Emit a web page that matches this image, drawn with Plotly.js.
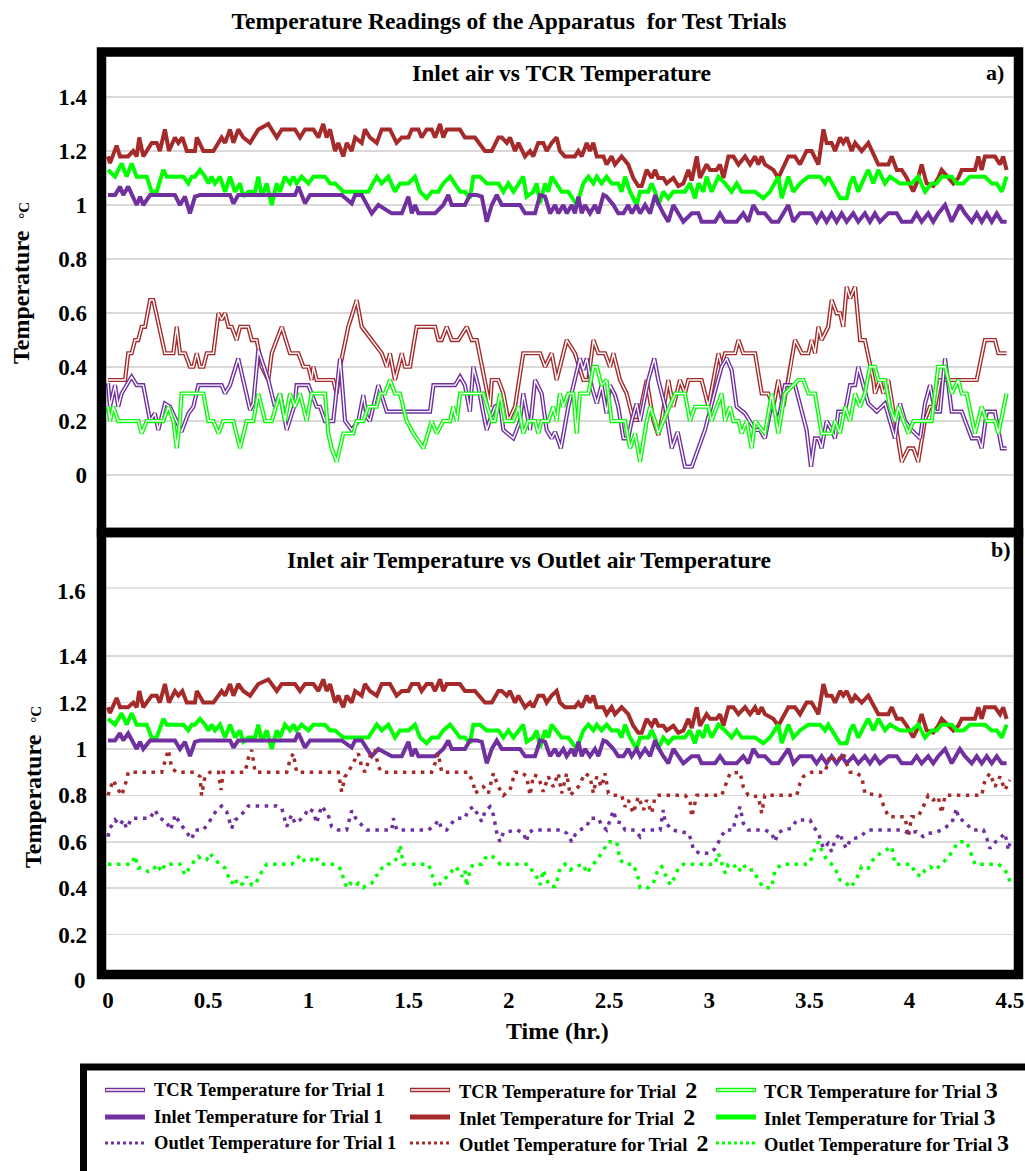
<!DOCTYPE html>
<html>
<head>
<meta charset="utf-8">
<script src="https://cdn.plot.ly/plotly-3.0.1.min.js"></script>
<style>html,body{margin:0;padding:0;background:#fff}#chart{width:1025px;height:1171px}</style>
</head>
<body>
<div id="chart"></div>
<script>
// ---------------- DATA (time in hr, temperature in °C) ----------------
const inlet2 = [[0,1.18],[0.01,1.155],[0.043,1.22],[0.06,1.18],[0.10,1.18],[0.126,1.20],[0.143,1.18],[0.156,1.25],[0.176,1.18],[0.218,1.23],[0.243,1.23],[0.259,1.20],[0.284,1.28],[0.304,1.20],[0.334,1.25],[0.351,1.23],[0.371,1.25],[0.393,1.20],[0.434,1.20],[0.443,1.25],[0.476,1.20],[0.526,1.20],[0.567,1.25],[0.584,1.23],[0.609,1.28],[0.626,1.23],[0.65,1.28],[0.675,1.25],[0.709,1.23],[0.75,1.28],[0.80,1.30],[0.842,1.25],[0.867,1.28],[0.933,1.28],[0.958,1.25],[0.983,1.28],[1.025,1.28],[1.05,1.25],[1.074,1.30],[1.091,1.25],[1.108,1.28],[1.133,1.20],[1.149,1.23],[1.174,1.18],[1.191,1.23],[1.216,1.20],[1.233,1.25],[1.266,1.23],[1.282,1.28],[1.307,1.25],[1.341,1.23],[1.366,1.28],[1.407,1.28],[1.44,1.23],[1.466,1.25],[1.499,1.25],[1.516,1.28],[1.549,1.28],[1.565,1.25],[1.59,1.28],[1.615,1.28],[1.632,1.25],[1.657,1.30],[1.673,1.25],[1.69,1.28],[1.756,1.28],[1.781,1.25],[1.831,1.25],[1.881,1.20],[1.915,1.20],[1.948,1.25],[1.965,1.25],[1.99,1.23],[2.006,1.25],[2.031,1.20],[2.048,1.23],[2.081,1.18],[2.106,1.20],[2.122,1.18],[2.147,1.23],[2.172,1.23],[2.189,1.20],[2.214,1.23],[2.239,1.25],[2.255,1.20],[2.280,1.18],[2.330,1.18],[2.347,1.20],[2.364,1.18],[2.389,1.23],[2.405,1.20],[2.422,1.23],[2.439,1.18],[2.472,1.18],[2.488,1.15],[2.513,1.18],[2.530,1.15],[2.563,1.18],[2.596,1.15],[2.621,1.10],[2.646,1.07],[2.663,1.07],[2.688,1.13],[2.713,1.10],[2.730,1.13],[2.746,1.10],[2.771,1.10],[2.788,1.08],[2.821,1.10],[2.846,1.07],[2.871,1.08],[2.896,1.13],[2.913,1.09],[2.938,1.18],[2.954,1.10],[2.987,1.15],[3.004,1.13],[3.037,1.13],[3.054,1.15],[3.071,1.10],[3.096,1.18],[3.121,1.18],[3.146,1.15],[3.179,1.18],[3.204,1.15],[3.229,1.18],[3.245,1.15],[3.262,1.18],[3.278,1.15],[3.320,1.13],[3.345,1.10],[3.395,1.18],[3.428,1.18],[3.453,1.15],[3.486,1.20],[3.511,1.20],[3.545,1.15],[3.570,1.28],[3.586,1.23],[3.611,1.23],[3.628,1.20],[3.653,1.25],[3.669,1.23],[3.686,1.25],[3.711,1.20],[3.728,1.23],[3.761,1.20],[3.794,1.23],[3.844,1.15],[3.894,1.15],[3.911,1.18],[3.936,1.13],[3.961,1.13],[3.986,1.10],[4.018,1.05],[4.035,1.08],[4.060,1.15],[4.085,1.08],[4.118,1.07],[4.143,1.10],[4.160,1.13],[4.193,1.10],[4.218,1.08],[4.243,1.10],[4.260,1.13],[4.326,1.13],[4.343,1.18],[4.360,1.13],[4.376,1.18],[4.426,1.18],[4.451,1.15],[4.467,1.18],[4.484,1.13]];

const inlet3 = [[0,1.13],[0.035,1.105],[0.068,1.154],[0.093,1.105],[0.118,1.154],[0.143,1.105],[0.193,1.105],[0.218,1.049],[0.243,1.049],[0.276,1.13],[0.293,1.105],[0.376,1.105],[0.401,1.08],[0.418,1.105],[0.434,1.105],[0.459,1.13],[0.484,1.105],[0.501,1.08],[0.517,1.105],[0.534,1.08],[0.559,1.105],[0.584,1.049],[0.609,1.105],[0.634,1.049],[0.659,1.08],[0.675,1.031],[0.700,1.049],[0.734,1.049],[0.750,1.105],[0.767,1.031],[0.792,1.08],[0.817,1.0],[0.842,1.08],[0.858,1.049],[0.883,1.105],[0.908,1.08],[0.925,1.105],[0.941,1.08],[0.966,1.105],[1.0,1.08],[1.025,1.105],[1.083,1.105],[1.108,1.08],[1.133,1.08],[1.174,1.049],[1.299,1.049],[1.341,1.105],[1.366,1.08],[1.399,1.105],[1.432,1.049],[1.457,1.08],[1.499,1.08],[1.532,1.105],[1.557,1.049],[1.590,1.025],[1.615,1.049],[1.648,1.049],[1.673,1.08],[1.707,1.105],[1.732,1.08],[1.757,1.049],[1.781,1.049],[1.806,1.025],[1.823,1.105],[1.856,1.105],[1.890,1.08],[1.948,1.08],[1.973,1.049],[1.998,1.08],[2.023,1.049],[2.048,1.08],[2.072,1.105],[2.089,1.031],[2.122,1.049],[2.139,1.08],[2.156,1.006],[2.181,1.08],[2.197,1.049],[2.214,1.105],[2.239,1.08],[2.264,1.049],[2.297,1.049],[2.339,1.0],[2.372,1.08],[2.397,1.105],[2.422,1.08],[2.439,1.105],[2.463,1.08],[2.488,1.105],[2.513,1.08],[2.546,1.08],[2.563,1.049],[2.580,1.105],[2.605,1.049],[2.638,1.0],[2.655,1.049],[2.696,1.049],[2.713,1.08],[2.730,1.049],[2.746,1.0],[2.771,1.049],[2.796,1.025],[2.821,1.049],[2.879,1.049],[2.904,1.08],[2.929,1.025],[2.946,1.08],[2.971,1.049],[2.987,1.105],[3.012,1.049],[3.046,1.105],[3.079,1.08],[3.112,1.049],[3.137,1.08],[3.162,1.049],[3.195,1.049],[3.229,1.049],[3.270,1.025],[3.303,1.049],[3.345,1.105],[3.362,1.025],[3.395,1.105],[3.420,1.049],[3.453,1.08],[3.495,1.105],[3.553,1.105],[3.578,1.08],[3.594,1.105],[3.636,1.049],[3.653,1.025],[3.686,1.025],[3.703,1.08],[3.719,1.105],[3.744,1.049],[3.777,1.105],[3.794,1.13],[3.819,1.08],[3.844,1.13],[3.877,1.08],[3.902,1.105],[3.952,1.08],[4.010,1.08],[4.043,1.105],[4.077,1.049],[4.110,1.08],[4.135,1.08],[4.160,1.105],[4.210,1.105],[4.235,1.08],[4.268,1.08],[4.301,1.105],[4.376,1.105],[4.410,1.08],[4.435,1.08],[4.460,1.049],[4.484,1.105]];

const inlet1 = [[0,1.037],[0.035,1.037],[0.06,1.068],[0.076,1.037],[0.101,1.068],[0.143,1.0],[0.16,1.031],[0.176,1.0],[0.21,1.037],[0.334,1.037],[0.359,1.0],[0.384,1.031],[0.409,0.969],[0.434,1.031],[0.459,1.037],[0.609,1.037],[0.626,1.006],[0.65,1.037],[0.933,1.037],[0.95,1.068],[0.983,1.006],[1.008,1.037],[1.166,1.037],[1.216,1.006],[1.233,1.037],[1.266,1.037],[1.316,0.969],[1.349,1.0],[1.416,0.969],[1.466,0.969],[1.499,1.031],[1.516,0.969],[1.532,1.0],[1.549,0.969],[1.590,0.969],[1.632,0.969],[1.673,1.0],[1.698,1.037],[1.715,1.0],[1.781,1.0],[1.806,1.037],[1.840,1.037],[1.865,1.031],[1.890,0.938],[1.915,1.0],[1.940,1.037],[1.965,1.0],[2.031,1.0],[2.056,1.0],[2.081,0.969],[2.097,0.969],[2.131,0.969],[2.156,1.037],[2.181,1.031],[2.206,0.969],[2.231,1.0],[2.247,0.969],[2.272,1.0],[2.289,0.969],[2.314,1.0],[2.330,0.969],[2.347,1.031],[2.364,0.969],[2.380,1.0],[2.405,0.969],[2.430,1.0],[2.447,0.969],[2.472,1.037],[2.488,1.031],[2.522,1.0],[2.546,0.969],[2.572,0.969],[2.596,1.0],[2.613,0.969],[2.638,1.0],[2.655,0.969],[2.680,1.0],[2.705,0.969],[2.730,1.037],[2.746,1.006],[2.771,0.969],[2.796,0.938],[2.821,1.0],[2.846,0.969],[2.871,0.938],[2.913,0.969],[2.946,0.969],[2.962,0.938],[3.029,0.938],[3.054,0.969],[3.079,0.938],[3.137,0.938],[3.170,0.969],[3.195,0.938],[3.220,1.0],[3.245,0.969],[3.278,0.969],[3.312,0.938],[3.345,0.938],[3.395,1.0],[3.420,0.938],[3.453,0.969],[3.511,0.969],[3.536,0.938],[3.561,0.969],[3.586,0.938],[3.611,0.969],[3.636,0.938],[3.661,0.969],[3.686,0.938],[3.719,0.969],[3.744,0.938],[3.777,0.969],[3.802,0.938],[3.827,0.969],[3.852,0.938],[3.894,0.969],[3.936,0.969],[3.961,0.938],[4.010,0.938],[4.035,0.969],[4.060,0.938],[4.093,0.969],[4.118,0.938],[4.143,0.969],[4.177,1.0],[4.210,0.938],[4.251,1.0],[4.276,0.969],[4.310,0.938],[4.335,0.969],[4.360,0.938],[4.385,0.969],[4.410,0.938],[4.435,0.969],[4.460,0.938],[4.484,0.938]];

const tcr2 = [[0,0.352],[0.085,0.352],[0.101,0.451],[0.118,0.451],[0.135,0.5],[0.151,0.5],[0.168,0.549],[0.185,0.549],[0.21,0.648],[0.226,0.648],[0.284,0.451],[0.326,0.451],[0.343,0.549],[0.359,0.451],[0.384,0.451],[0.409,0.401],[0.426,0.401],[0.443,0.451],[0.459,0.401],[0.476,0.401],[0.493,0.451],[0.526,0.451],[0.551,0.599],[0.567,0.575],[0.584,0.599],[0.601,0.549],[0.617,0.549],[0.642,0.5],[0.659,0.549],[0.700,0.549],[0.717,0.5],[0.742,0.5],[0.767,0.401],[0.80,0.352],[0.817,0.451],[0.867,0.549],[0.908,0.451],[0.95,0.451],[0.975,0.401],[1.0,0.401],[1.016,0.352],[1.025,0.401],[1.041,0.352],[1.124,0.352],[1.141,0.302],[1.158,0.401],[1.199,0.549],[1.241,0.648],[1.266,0.549],[1.316,0.5],[1.366,0.451],[1.391,0.401],[1.407,0.451],[1.432,0.352],[1.466,0.451],[1.482,0.401],[1.507,0.401],[1.540,0.549],[1.632,0.549],[1.648,0.5],[1.665,0.5],[1.690,0.549],[1.715,0.5],[1.748,0.5],[1.790,0.549],[1.815,0.5],[1.840,0.5],[1.906,0.253],[1.915,0.352],[1.948,0.352],[1.973,0.302],[1.998,0.2],[2.031,0.253],[2.072,0.451],[2.131,0.451],[2.156,0.451],[2.181,0.401],[2.214,0.451],[2.239,0.352],[2.289,0.5],[2.330,0.451],[2.372,0.352],[2.397,0.352],[2.422,0.5],[2.447,0.451],[2.480,0.451],[2.505,0.401],[2.522,0.451],[2.555,0.352],[2.588,0.302],[2.621,0.204],[2.646,0.204],[2.688,0.352],[2.721,0.204],[2.746,0.148],[2.763,0.204],[2.796,0.352],[2.821,0.253],[2.854,0.352],[2.879,0.302],[2.896,0.352],[2.962,0.352],[2.996,0.253],[3.021,0.352],[3.046,0.451],[3.062,0.401],[3.079,0.451],[3.129,0.451],[3.146,0.5],[3.170,0.451],[3.229,0.451],[3.262,0.302],[3.295,0.302],[3.320,0.253],[3.345,0.352],[3.370,0.253],[3.395,0.352],[3.428,0.5],[3.462,0.451],[3.495,0.451],[3.511,0.5],[3.528,0.451],[3.545,0.549],[3.561,0.5],[3.594,0.549],[3.611,0.648],[3.636,0.599],[3.653,0.599],[3.669,0.549],[3.686,0.697],[3.703,0.654],[3.728,0.697],[3.753,0.5],[3.777,0.5],[3.819,0.352],[3.827,0.302],[3.852,0.352],[3.869,0.302],[3.894,0.352],[3.927,0.204],[3.961,0.049],[3.994,0.099],[4.019,0.099],[4.043,0.049],[4.077,0.204],[4.102,0.253],[4.127,0.253],[4.152,0.352],[4.335,0.352],[4.376,0.5],[4.426,0.5],[4.443,0.451],[4.484,0.451]];

const tcr1 = [[0,0.34],[0.01,0.253],[0.035,0.333],[0.051,0.253],[0.068,0.302],[0.093,0.333],[0.118,0.364],[0.143,0.333],[0.176,0.333],[0.21,0.2],[0.234,0.228],[0.251,0.167],[0.284,0.265],[0.309,0.253],[0.343,0.2],[0.367,0.160],[0.401,0.228],[0.426,0.253],[0.451,0.333],[0.567,0.333],[0.584,0.302],[0.609,0.333],[0.650,0.432],[0.675,0.352],[0.709,0.241],[0.725,0.265],[0.750,0.463],[0.80,0.352],[0.833,0.253],[0.858,0.302],[0.892,0.167],[0.933,0.265],[0.941,0.333],[1.0,0.333],[1.041,0.253],[1.058,0.253],[1.083,0.2],[1.124,0.2],[1.158,0.432],[1.183,0.2],[1.216,0.167],[1.249,0.2],[1.274,0.296],[1.291,0.216],[1.307,0.2],[1.349,0.333],[1.374,0.278],[1.391,0.235],[1.607,0.235],[1.624,0.333],[1.732,0.333],[1.757,0.364],[1.781,0.333],[1.806,0.235],[1.823,0.401],[1.848,0.327],[1.873,0.228],[1.890,0.167],[1.906,0.204],[1.931,0.253],[1.956,0.265],[1.973,0.167],[2.023,0.136],[2.056,0.2],[2.072,0.302],[2.106,0.167],[2.131,0.352],[2.164,0.302],[2.189,0.167],[2.214,0.136],[2.231,0.160],[2.260,0.099],[2.297,0.253],[2.322,0.333],[2.355,0.432],[2.372,0.389],[2.389,0.432],[2.414,0.327],[2.439,0.265],[2.463,0.333],[2.488,0.228],[2.505,0.333],[2.530,0.296],[2.546,0.253],[2.572,0.136],[2.596,0.136],[2.613,0.2],[2.638,0.265],[2.655,0.2],[2.696,0.352],[2.726,0.432],[2.746,0.352],[2.780,0.253],[2.813,0.099],[2.843,0.160],[2.879,0.031],[2.913,0.031],[2.946,0.099],[2.979,0.167],[3.037,0.333],[3.062,0.401],[3.087,0.432],[3.112,0.389],[3.137,0.253],[3.179,0.228],[3.229,0.167],[3.253,0.167],[3.278,0.136],[3.312,0.265],[3.345,0.2],[3.378,0.333],[3.428,0.333],[3.462,0.241],[3.486,0.167],[3.508,0.031],[3.528,0.136],[3.545,0.136],[3.561,0.099],[3.586,0.2],[3.611,0.167],[3.628,0.136],[3.644,0.235],[3.678,0.235],[3.703,0.333],[3.728,0.333],[3.744,0.401],[3.769,0.333],[3.794,0.265],[3.836,0.235],[3.877,0.265],[3.902,0.2],[3.927,0.136],[3.952,0.265],[3.977,0.2],[4.010,0.167],[4.052,0.136],[4.077,0.265],[4.102,0.333],[4.127,0.235],[4.152,0.235],[4.177,0.432],[4.210,0.235],[4.260,0.235],[4.310,0.136],[4.343,0.136],[4.360,0.099],[4.385,0.235],[4.426,0.235],[4.460,0.099],[4.484,0.099]];

const tcr3 = [[0,0.253],[0.01,0.2],[0.026,0.253],[0.051,0.2],[0.151,0.2],[0.168,0.154],[0.193,0.2],[0.276,0.2],[0.301,0.253],[0.326,0.2],[0.343,0.099],[0.359,0.2],[0.367,0.302],[0.476,0.302],[0.501,0.2],[0.526,0.2],[0.551,0.154],[0.575,0.2],[0.625,0.2],[0.659,0.099],[0.692,0.2],[0.725,0.2],[0.750,0.302],[0.784,0.2],[0.817,0.2],[0.858,0.302],[0.883,0.2],[0.908,0.302],[0.933,0.253],[0.958,0.302],[0.991,0.2],[1.016,0.302],[1.083,0.302],[1.099,0.154],[1.116,0.099],[1.141,0.049],[1.174,0.154],[1.224,0.154],[1.241,0.2],[1.274,0.2],[1.299,0.253],[1.341,0.253],[1.357,0.302],[1.382,0.302],[1.407,0.352],[1.432,0.302],[1.457,0.302],[1.490,0.2],[1.524,0.154],[1.574,0.099],[1.615,0.2],[1.640,0.154],[1.673,0.2],[1.707,0.2],[1.723,0.253],[1.740,0.2],[1.757,0.302],[1.873,0.302],[1.915,0.2],[1.931,0.2],[1.956,0.302],[1.981,0.2],[2.023,0.2],[2.048,0.253],[2.072,0.154],[2.097,0.2],[2.131,0.2],[2.147,0.154],[2.164,0.2],[2.197,0.2],[2.222,0.253],[2.239,0.2],[2.255,0.302],[2.272,0.253],[2.297,0.302],[2.322,0.302],[2.339,0.154],[2.355,0.302],[2.397,0.302],[2.422,0.401],[2.439,0.401],[2.463,0.333],[2.488,0.352],[2.513,0.2],[2.580,0.2],[2.605,0.099],[2.630,0.154],[2.655,0.049],[2.688,0.2],[2.705,0.253],[2.730,0.2],[2.746,0.154],[2.771,0.2],[2.830,0.302],[2.879,0.302],[2.904,0.2],[2.929,0.253],[2.996,0.253],[3.012,0.2],[3.037,0.253],[3.062,0.302],[3.079,0.2],[3.104,0.253],[3.121,0.2],[3.146,0.2],[3.162,0.154],[3.187,0.2],[3.212,0.099],[3.229,0.2],[3.278,0.154],[3.312,0.302],[3.345,0.154],[3.378,0.302],[3.445,0.352],[3.470,0.352],[3.495,0.302],[3.528,0.302],[3.561,0.154],[3.611,0.154],[3.628,0.2],[3.653,0.154],[3.678,0.253],[3.703,0.2],[3.728,0.302],[3.753,0.253],[3.777,0.302],[3.802,0.401],[3.827,0.401],[3.844,0.352],[3.877,0.352],[3.902,0.253],[3.927,0.2],[3.944,0.253],[3.969,0.2],[3.994,0.154],[4.019,0.2],[4.110,0.2],[4.143,0.401],[4.177,0.401],[4.210,0.302],[4.243,0.352],[4.260,0.302],[4.285,0.302],[4.326,0.154],[4.360,0.253],[4.385,0.2],[4.426,0.2],[4.443,0.154],[4.484,0.302]];

const outlet2 = [[0,0.80],[0.026,0.866],[0.043,0.837],[0.068,0.80],[0.093,0.866],[0.101,0.90],[0.268,0.90],[0.284,0.953],[0.301,0.996],[0.318,0.917],[0.343,0.90],[0.434,0.90],[0.459,0.881],[0.467,0.80],[0.484,0.881],[0.509,0.90],[0.551,0.90],[0.564,0.823],[0.575,0.90],[0.684,0.90],[0.700,0.960],[0.717,0.996],[0.734,0.90],[0.892,0.90],[0.908,0.953],[0.925,0.981],[0.941,0.90],[1.149,0.90],[1.166,0.816],[1.183,0.881],[1.199,0.90],[1.249,0.981],[1.266,0.924],[1.282,0.90],[1.307,0.967],[1.332,0.996],[1.349,0.924],[1.366,0.90],[1.615,0.90],[1.632,0.938],[1.648,0.981],[1.665,0.90],[1.798,0.90],[1.823,0.852],[1.832,0.809],[1.873,0.837],[1.898,0.809],[1.923,0.895],[1.948,0.837],[1.973,0.80],[2.006,0.823],[2.031,0.90],[2.064,0.90],[2.089,0.881],[2.106,0.80],[2.123,0.888],[2.147,0.881],[2.172,0.816],[2.197,0.881],[2.222,0.837],[2.247,0.895],[2.264,0.809],[2.289,0.895],[2.306,0.80],[2.347,0.837],[2.380,0.895],[2.405,0.881],[2.422,0.809],[2.439,0.881],[2.463,0.837],[2.480,0.895],[2.497,0.809],[2.522,0.80],[2.563,0.80],[2.580,0.751],[2.596,0.780],[2.621,0.723],[2.646,0.794],[2.672,0.737],[2.688,0.780],[2.713,0.723],[2.730,0.794],[2.746,0.80],[2.879,0.80],[2.904,0.780],[2.913,0.708],[2.938,0.80],[3.062,0.80],[3.079,0.837],[3.104,0.895],[3.154,0.90],[3.170,0.837],[3.195,0.80],[3.245,0.794],[3.262,0.723],[3.278,0.80],[3.437,0.80],[3.453,0.852],[3.470,0.881],[3.511,0.90],[3.578,0.90],[3.603,0.974],[3.636,0.945],[3.669,0.981],[3.686,0.938],[3.703,0.90],[3.728,0.90],[3.761,0.881],[3.777,0.809],[3.852,0.80],[3.869,0.759],[3.894,0.708],[3.977,0.708],[3.994,0.622],[4.010,0.708],[4.043,0.708],[4.068,0.751],[4.093,0.80],[4.118,0.780],[4.143,0.794],[4.160,0.723],[4.177,0.80],[4.360,0.80],[4.376,0.866],[4.401,0.895],[4.426,0.837],[4.451,0.881],[4.476,0.823],[4.5,0.866]];

const outlet1 = [[0,0.622],[0.01,0.658],[0.035,0.694],[0.06,0.672],[0.076,0.694],[0.093,0.658],[0.118,0.701],[0.168,0.701],[0.21,0.701],[0.234,0.737],[0.259,0.701],[0.293,0.687],[0.309,0.651],[0.326,0.680],[0.334,0.716],[0.359,0.680],[0.384,0.651],[0.418,0.611],[0.434,0.651],[0.476,0.651],[0.517,0.701],[0.542,0.737],[0.567,0.754],[0.592,0.730],[0.617,0.658],[0.634,0.694],[0.659,0.708],[0.700,0.754],[0.80,0.754],[0.842,0.754],[0.867,0.744],[0.892,0.665],[0.916,0.716],[0.933,0.680],[0.958,0.694],[0.983,0.716],[1.0,0.744],[1.025,0.730],[1.041,0.680],[1.066,0.754],[1.099,0.716],[1.116,0.665],[1.149,0.651],[1.191,0.651],[1.216,0.734],[1.241,0.694],[1.266,0.672],[1.291,0.651],[1.416,0.651],[1.424,0.701],[1.441,0.651],[1.599,0.651],[1.632,0.672],[1.648,0.694],[1.665,0.658],[1.690,0.651],[1.715,0.680],[1.740,0.701],[1.781,0.701],[1.798,0.737],[1.823,0.751],[1.840,0.723],[1.865,0.687],[1.881,0.730],[1.906,0.751],[1.923,0.716],[1.940,0.639],[1.956,0.60],[1.973,0.639],[2.039,0.651],[2.072,0.639],[2.089,0.60],[2.097,0.639],[2.123,0.651],[2.139,0.651],[2.264,0.651],[2.289,0.637],[2.314,0.60],[2.330,0.629],[2.355,0.651],[2.389,0.665],[2.405,0.701],[2.447,0.701],[2.463,0.672],[2.488,0.651],[2.505,0.694],[2.522,0.734],[2.538,0.687],[2.563,0.680],[2.580,0.651],[2.630,0.651],[2.655,0.622],[2.672,0.651],[2.713,0.651],[2.755,0.651],[2.771,0.737],[2.780,0.687],[2.813,0.651],[2.863,0.644],[2.896,0.637],[2.913,0.60],[2.921,0.564],[2.954,0.550],[3.004,0.550],[3.029,0.571],[3.046,0.60],[3.062,0.622],[3.079,0.651],[3.121,0.651],[3.129,0.694],[3.154,0.751],[3.170,0.680],[3.195,0.651],[3.278,0.651],[3.312,0.637],[3.328,0.60],[3.345,0.639],[3.370,0.651],[3.411,0.658],[3.437,0.694],[3.503,0.694],[3.520,0.665],[3.545,0.637],[3.570,0.571],[3.594,0.593],[3.611,0.557],[3.628,0.608],[3.653,0.637],[3.669,0.593],[3.686,0.571],[3.703,0.608],[3.728,0.615],[3.753,0.622],[3.794,0.651],[3.961,0.651],[3.994,0.637],[4.035,0.644],[4.068,0.622],[4.093,0.637],[4.127,0.639],[4.160,0.651],[4.210,0.680],[4.235,0.744],[4.243,0.701],[4.276,0.687],[4.310,0.651],[4.368,0.651],[4.385,0.615],[4.401,0.571],[4.418,0.593],[4.443,0.608],[4.476,0.637],[4.493,0.564],[4.5,0.593]];

const outlet3 = [[0,0.503],[0.118,0.503],[0.135,0.539],[0.151,0.486],[0.168,0.489],[0.201,0.471],[0.226,0.478],[0.243,0.503],[0.268,0.471],[0.284,0.503],[0.359,0.503],[0.384,0.457],[0.418,0.503],[0.451,0.536],[0.467,0.522],[0.492,0.522],[0.509,0.550],[0.534,0.522],[0.559,0.503],[0.584,0.486],[0.601,0.450],[0.617,0.421],[0.634,0.443],[0.650,0.409],[0.675,0.421],[0.692,0.450],[0.717,0.414],[0.734,0.414],[0.750,0.443],[0.767,0.471],[0.792,0.503],[0.916,0.503],[0.941,0.522],[0.958,0.543],[0.983,0.514],[1.016,0.522],[1.033,0.539],[1.058,0.503],[1.133,0.503],[1.166,0.478],[1.174,0.443],[1.191,0.402],[1.208,0.421],[1.233,0.407],[1.249,0.421],[1.274,0.402],[1.291,0.414],[1.316,0.421],[1.332,0.450],[1.357,0.464],[1.366,0.486],[1.382,0.486],[1.399,0.503],[1.432,0.514],[1.449,0.550],[1.457,0.586],[1.474,0.503],[1.599,0.503],[1.615,0.464],[1.632,0.414],[1.648,0.402],[1.665,0.435],[1.698,0.450],[1.732,0.493],[1.748,0.478],[1.765,0.450],[1.781,0.478],[1.790,0.407],[1.806,0.478],[1.823,0.503],[1.865,0.503],[1.881,0.529],[1.906,0.543],[1.931,0.529],[1.956,0.503],[2.097,0.503],[2.114,0.478],[2.131,0.464],[2.156,0.414],[2.172,0.478],[2.189,0.435],[2.206,0.407],[2.231,0.407],[2.247,0.450],[2.255,0.486],[2.280,0.503],[2.306,0.478],[2.330,0.493],[2.372,0.503],[2.389,0.464],[2.422,0.503],[2.463,0.550],[2.497,0.60],[2.538,0.60],[2.555,0.522],[2.580,0.503],[2.621,0.503],[2.646,0.443],[2.655,0.402],[2.696,0.402],[2.721,0.421],[2.746,0.486],[2.763,0.493],[2.788,0.450],[2.805,0.414],[2.830,0.450],[2.846,0.486],[2.871,0.503],[3.029,0.503],[3.046,0.550],[3.062,0.503],[3.079,0.464],[3.096,0.503],[3.121,0.503],[3.146,0.471],[3.170,0.503],[3.187,0.478],[3.220,0.478],[3.245,0.435],[3.270,0.402],[3.312,0.402],[3.328,0.478],[3.362,0.503],[3.495,0.503],[3.511,0.529],[3.528,0.572],[3.545,0.60],[3.561,0.565],[3.586,0.522],[3.611,0.503],[3.636,0.471],[3.653,0.435],[3.678,0.428],[3.703,0.402],[3.728,0.428],[3.744,0.457],[3.761,0.493],[3.794,0.486],[3.827,0.536],[3.869,0.557],[3.911,0.579],[3.927,0.503],[4.010,0.503],[4.027,0.464],[4.060,0.450],[4.077,0.478],[4.102,0.493],[4.127,0.478],[4.160,0.503],[4.201,0.543],[4.243,0.60],[4.285,0.60],[4.310,0.536],[4.326,0.503],[4.443,0.503],[4.460,0.493],[4.493,0.457],[4.5,0.421]];

const xTickVals = [0,0.5,1,1.5,2,2.5,3,3.5,4,4.5];
const xTickText = ['0','0.5','1','1.5','2','2.5','3','3.5','4','4.5'];
const yTickValsA = [0,0.2,0.4,0.6,0.8,1,1.2,1.4];
const yTickTextA = ['0','0.2','0.4','0.6','0.8','1','1.2','1.4'];
const yTickValsB = [0.2,0.4,0.6,0.8,1,1.2,1.4];
const yTickTextB = ['0.2','0.4','0.6','0.8','1','1.2','1.4'];

const legendNames = [
  ['TCR Temperature for Trial 1', 'TCR Temperature for Trial ', 'TCR Temperature for Trial'],
  ['Inlet Temperature for Trial 1', 'Inlet Temperature for Trial ', 'Inlet Temperature for Trial'],
  ['Outlet Temperature for Trial 1', 'Outlet Temperature for Trial ', 'Outlet Temperature for Trial']
];

// ---------------- STYLE ----------------
const C1 = '#7030A0', C2 = '#A52A2A', C3 = '#00FF00';
const SERIF = '"Liberation Serif", "Times New Roman", serif';
const DOT = '3.5px,5.5px';

const L = 106, T = 57, W = 907, H = 913;
const px = p => (p - L) / W;
const py = p => (T + H - p) / H;

function line(data, xa, ya, color, width, dash) {
  return {x: data.map(d => d[0]), y: data.map(d => d[1]), xaxis: xa, yaxis: ya,
    type: 'scatter', mode: 'lines', line: {color: color, width: width, dash: dash || 'solid', shape: 'linear'},
    hoverinfo: 'skip', showlegend: false};
}
function dbl(data, xa, ya, color) {
  return [line(data, xa, ya, color, 4.2), line(data, xa, ya, '#ffffff', 1.4)];
}

const traces = [].concat(
  dbl(tcr2, 'x', 'y', C2), dbl(tcr1, 'x', 'y', C1), dbl(tcr3, 'x', 'y', C3),
  [line(inlet2, 'x', 'y', C2, 4), line(inlet3, 'x', 'y', C3, 4), line(inlet1, 'x', 'y', C1, 4)],
  [line(inlet2, 'x2', 'y2', C2, 4), line(inlet3, 'x2', 'y2', C3, 4), line(inlet1, 'x2', 'y2', C1, 4)],
  [line(outlet2, 'x2', 'y2', C2, 3.5, DOT), line(outlet1, 'x2', 'y2', C1, 3.5, DOT), line(outlet3, 'x2', 'y2', C3, 3.5, DOT)]
);

const tickFont = {family: SERIF, size: 23, color: '#000', weight: 'bold'};
const gridCol = '#d9d9d9';

// frames & decorations
const shapes = [];
function rectPx(x0, y0, x1, y1, w) {
  shapes.push({type: 'rect', xref: 'paper', yref: 'paper', x0: px(x0), x1: px(x1), y0: py(y0), y1: py(y1),
    line: {color: '#000', width: w}, fillcolor: 'rgba(0,0,0,0)', layer: 'above'});
}
function segPx(x0, y0, x1, y1, color, w, dash) {
  shapes.push({type: 'line', xref: 'paper', yref: 'paper', x0: px(x0), x1: px(x1), y0: py(y0), y1: py(y1),
    line: {color: color, width: w, dash: dash || 'solid'}, layer: 'above'});
}
// panel b 1.6 gridline
segPx(106, 588, 1013, 588, gridCol, 1.5);
rectPx(101.5, 52, 1018.5, 532.5, 9.5);
rectPx(101.5, 532.5, 1018.5, 974.5, 9.5);
// legend box
rectPx(83.5, 1067, 1030, 1185, 7);

const annotations = [];
function txt(s, x, y, size, opts) {
  annotations.push(Object.assign({text: s, xref: 'paper', yref: 'paper', x: px(x), y: py(y),
    showarrow: false, xanchor: 'center', yanchor: 'middle',
    font: {family: SERIF, size: size, color: '#000', weight: 'bold'}}, opts || {}));
}
txt('Inlet air vs TCR Temperature', 561, 73, 23.5);
txt('a)', 995, 73, 22);
txt('Inlet air Temperature vs Outlet air Temperature', 529, 560, 23.5);
txt('b)', 1001, 549, 22);
txt('Temperature  <span style="font-size:15px">°C</span>', 21, 283, 24, {textangle: -90});
txt('Temperature  <span style="font-size:15px">°C</span>', 33, 787, 24, {textangle: -90});
txt('Time (hr.)', 557, 1031, 24);
txt('1.6', 88, 591, 23, {xanchor: 'right'});
txt('0', 88, 981, 23, {xanchor: 'right'});

// manual legend
const legCols = [{sx: 105, tx: 152, c: C1, big: ''}, {sx: 410, tx: 457, c: C2, big: '2'}, {sx: 716, tx: 762, c: C3, big: '3'}];
const legRows = [1090, 1117, 1143];
legCols.forEach((col, ci) => {
  legRows.forEach((ry, ri) => {
    if (ri === 0) { segPx(col.sx, ry, col.sx + 40, ry, col.c, 4.5); segPx(col.sx + 1, ry, col.sx + 39, ry, '#fff', 1.5); }
    else if (ri === 1) { segPx(col.sx, ry, col.sx + 40, ry, col.c, 5); }
    else { segPx(col.sx, ry, col.sx + 40, ry, col.c, 3, 'dot'); }
    let s = legendNames[ri][ci];
    if (col.big) s += ' <span style="font-size:24px">' + col.big + '</span>';
    txt(s, col.tx, ry, 18.5, {xanchor: 'left'});
  });
});

const layout = {
  width: 1025, height: 1171,
  margin: {l: L, r: 1025 - L - W, t: T, b: 1171 - T - H, pad: 0},
  paper_bgcolor: '#fff', plot_bgcolor: '#fff',
  showlegend: false,
  title: {text: 'Temperature Readings of the Apparatus  for Test Trials', x: 0.4966, xanchor: 'center',
    y: 1 - 21 / 1171, yanchor: 'middle', yref: 'container', font: {family: SERIF, size: 23.5, color: '#000', weight: 'bold'}},
  xaxis: {domain: [0, 1], anchor: 'y', range: [-0.01, 4.516], showgrid: false, zeroline: false,
    showline: false, showticklabels: false, ticks: ''},
  yaxis: {domain: [(970 - 528) / H, 1], anchor: 'x', range: [-0.196, 1.548], tickvals: yTickValsA, ticktext: yTickTextA,
    showgrid: true, gridcolor: gridCol, gridwidth: 1.5, zeroline: false, showline: false, ticks: '',
    tickfont: tickFont, ticklabelstandoff: 18},
  xaxis2: {domain: [0, 1], anchor: 'y2', range: [-0.01, 4.516], showgrid: false, zeroline: false,
    showline: false, ticks: '', tickvals: xTickVals, ticktext: xTickText, tickfont: tickFont, ticklabelstandoff: 14},
  yaxis2: {domain: [0, (970 - 537) / H], anchor: 'x2', range: [0.047, 1.914], tickvals: yTickValsB, ticktext: yTickTextB,
    showgrid: true, gridcolor: gridCol, gridwidth: 1.5, zeroline: false, showline: false, ticks: '',
    tickfont: tickFont, ticklabelstandoff: 18},
  shapes: shapes,
  annotations: annotations
};

Plotly.newPlot('chart', traces, layout, {displayModeBar: false, staticPlot: true});
</script>
</body>
</html>
